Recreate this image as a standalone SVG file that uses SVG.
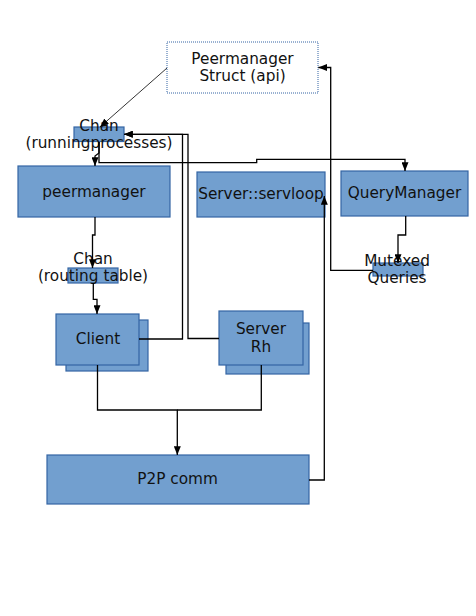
<svg xmlns="http://www.w3.org/2000/svg" width="476" height="616" viewBox="0 0 476 616">
<style>
.n{fill:#729fcf;stroke:#3465a4;stroke-width:1.2}
.t{font-family:"DejaVu Sans",sans-serif;font-size:15.3px;fill:#111;text-anchor:middle}
.c{fill:none;stroke:#000;stroke-width:1.3}
</style>
<defs>
<marker id="a" viewBox="0 0 10 8" refX="10" refY="4" markerWidth="9" markerHeight="7" markerUnits="userSpaceOnUse" orient="auto">
<path d="M0,0 L10,4 L0,8 Z" fill="#000"/>
</marker>
</defs>
<rect width="476" height="616" fill="#fff"/>
<g id="api">
<rect x="167" y="42" width="151" height="51" fill="#fff" stroke="#3465a4" stroke-width="1" stroke-dasharray="1,1"/>
<text class="t" x="242.5" y="64">Peermanager</text>
<text class="t" x="242.5" y="81">Struct (api)</text>
</g>
<g id="chan-running">
<rect class="n" x="74" y="127" width="50" height="14.5"/>
<text class="t" x="99" y="131">Chan</text>
<text class="t" x="99" y="148">(runningprocesses)</text>
</g>
<g id="peermanager">
<rect class="n" x="18" y="166" width="152" height="51"/>
<text class="t" x="94" y="197">peermanager</text>
</g>
<g id="servloop">
<rect class="n" x="197" y="172" width="128" height="45"/>
<text class="t" x="261" y="199">Server::servloop</text>
</g>
<g id="querymanager">
<rect class="n" x="341" y="171" width="127" height="45"/>
<text class="t" x="404.5" y="198">QueryManager</text>
</g>
<g id="chan-routing">
<rect class="n" x="68" y="268" width="50" height="15"/>
<text class="t" x="93" y="264">Chan</text>
<text class="t" x="93" y="281">(routing table)</text>
</g>
<g id="mutexed">
<rect class="n" x="373" y="263" width="50" height="13"/>
<text class="t" x="397" y="266">Mutexed</text>
<text class="t" x="397" y="283">Queries</text>
</g>
<g id="client">
<rect class="n" x="66" y="320" width="82" height="51"/>
<rect class="n" x="56" y="314" width="83" height="51"/>
<text class="t" x="98" y="344">Client</text>
</g>
<g id="server-rh">
<rect class="n" x="226" y="323" width="83" height="51"/>
<rect class="n" x="219" y="311" width="84" height="54"/>
<text class="t" x="261" y="334">Server</text>
<text class="t" x="261" y="352">Rh</text>
</g>
<g id="p2p">
<rect class="n" x="47" y="455" width="262" height="49"/>
<text class="t" x="177.5" y="484">P2P comm</text>
</g>
<g id="connectors">
<path class="c" style="stroke-width:0.8" d="M167,68 L100,127" marker-end="url(#a)"/>
<path class="c" d="M99,142 V153 L95,156 V166" marker-end="url(#a)"/>
<path class="c" d="M99,142 V162.7 H256.7 V159.3 H405 V171" marker-end="url(#a)"/>
<path class="c" d="M139,339 H182.5 V134.3 H124" marker-end="url(#a)"/>
<path class="c" d="M219,338.5 H188 V134.3 H124" marker-end="url(#a)"/>
<path class="c" d="M309,480 H324.3 V196" marker-end="url(#a)"/>
<path class="c" d="M373,270.3 H330.7 V67.5 H318.3" marker-end="url(#a)"/>
<path class="c" d="M405.7,216 V235 H398 V263" marker-end="url(#a)"/>
<path class="c" d="M95,217 V235 H92.5 V268" marker-end="url(#a)"/>
<path class="c" d="M93.3,283 V299.3 H97 V314" marker-end="url(#a)"/>
<path class="c" d="M97.5,365 V410 H177.3 V455" marker-end="url(#a)"/>
<path class="c" d="M261.3,365 V410 H177.3"/>
</g>
</svg>
